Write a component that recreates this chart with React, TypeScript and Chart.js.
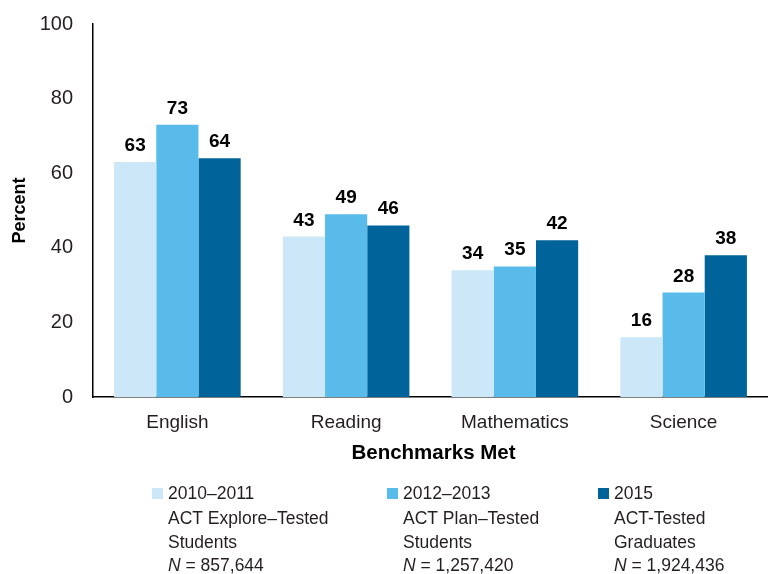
import React, { useEffect, useRef } from "react";
import { Chart, registerables } from "chart.js";

Chart.register(...registerables);

const categories = ["English", "Reading", "Mathematics", "Science"];
const series2010 = [63, 43, 34, 16];
const series2012 = [73, 49, 35, 28];
const series2015 = [64, 46, 42, 38];
const yTicks = [0, 20, 40, 60, 80, 100];

const seriesNames = ["2010–2011", "2012–2013", "2015"];
const legendLines = [
  ["2010–2011", "ACT Explore–Tested", "Students", "857,644"],
  ["2012–2013", "ACT Plan–Tested", "Students", "1,257,420"],
  ["2015", "ACT-Tested", "Graduates", "1,924,436"],
];
const colors = ["#CBE7F8", "#59BBEA", "#006399"];

const FONT = "'Liberation Sans', Arial, Helvetica, sans-serif";
const TEXT = "#231F20";

const labelsPlugin = {
  id: "customText",
  afterDatasetsDraw(chart: any) {
    const ctx = chart.ctx;
    ctx.save();
    ctx.fillStyle = "#000";
    ctx.font = `bold 19px ${FONT}`;
    ctx.textAlign = "center";
    ctx.textBaseline = "alphabetic";
    chart.data.datasets.forEach((ds: any, i: number) => {
      const meta = chart.getDatasetMeta(i);
      meta.data.forEach((el: any, j: number) => {
        ctx.fillText(String(ds.data[j]), el.x, el.y - 11);
      });
    });
    ctx.restore();
  },
  afterDraw(chart: any) {
    const ctx = chart.ctx;
    const area = chart.chartArea;
    ctx.save();
    ctx.fillStyle = "#000";
    // y title
    ctx.font = `bold 18px ${FONT}`;
    ctx.textAlign = "center";
    ctx.textBaseline = "middle";
    ctx.translate(20, (area.top + area.bottom) / 2);
    ctx.rotate(-Math.PI / 2);
    ctx.fillText("Percent", 0, 0);
    ctx.setTransform(1, 0, 0, 1, 0, 0);
    // x title
    ctx.font = `bold 20.5px ${FONT}`;
    ctx.fillText("Benchmarks Met", (area.left + area.right) / 2 + 3, 453);
    // legend
    const xs = [152, 387, 598];
    const lineYs = [494, 519, 543, 566];
    legendLines.forEach((lines, i) => {
      const x = xs[i];
      ctx.fillStyle = colors[i];
      ctx.fillRect(x, 488, 11, 11);
      ctx.fillStyle = TEXT;
      ctx.textAlign = "left";
      ctx.textBaseline = "middle";
      ctx.font = `17.5px ${FONT}`;
      ctx.fillText(lines[0], x + 16, lineYs[0]);
      ctx.fillText(lines[1], x + 16, lineYs[1]);
      ctx.fillText(lines[2], x + 16, lineYs[2]);
      ctx.font = `italic 17.5px ${FONT}`;
      ctx.fillText("N", x + 16, lineYs[3]);
      const nw = ctx.measureText("N").width;
      ctx.font = `17.5px ${FONT}`;
      ctx.fillText(" = " + lines[3], x + 16 + nw, lineYs[3]);
    });
    ctx.restore();
  },
};

export default function App() {
  const ref = useRef<HTMLCanvasElement>(null);
  useEffect(() => {
    if (!ref.current) return;
    const chart = new Chart(ref.current, {
      type: "bar",
      data: {
        labels: categories,
        datasets: [series2010, series2012, series2015].map((d, i) => ({
          label: seriesNames[i],
          data: d,
          backgroundColor: colors[i],
          borderWidth: 0,
          categoryPercentage: 0.75,
          barPercentage: 1.0,
        })),
      },
      options: {
        animation: false,
        responsive: false,
        devicePixelRatio: 1,
        layout: { padding: { top: 24, left: 0, right: 0, bottom: 0 } },
        plugins: { legend: { display: false }, tooltip: { enabled: false } },
        scales: {
          x: {
            grid: { display: false, drawTicks: false },
            border: { display: true, color: "#000", width: 1.5 },
            ticks: { font: { family: FONT, size: 19 }, color: TEXT, padding: 14, maxRotation: 0 },
            afterFit: (s: any) => {
              s.height = 177;
              s.paddingLeft = 0;
              s.paddingRight = 0;
            },
          },
          y: {
            min: 0,
            max: 100,
            grid: { display: false, drawTicks: false },
            border: { display: true, color: "#000", width: 1.5 },
            afterBuildTicks: (s: any) => {
              s.ticks = yTicks.map((v) => ({ value: v }));
            },
            ticks: { font: { family: FONT, size: 20 }, color: TEXT, padding: 20 },
            afterFit: (s: any) => {
              s.width = 93;
              s.paddingTop = 0;
              s.paddingBottom = 0;
            },
          },
        },
      },
      plugins: [labelsPlugin],
    });
    return () => chart.destroy();
  }, []);
  return (
    <div style={{ position: "fixed", left: 0, top: 0, width: 768, height: 574, background: "#fff" }}>
      <canvas ref={ref} width={768} height={574} style={{ width: 768, height: 574, display: "block" }} />
    </div>
  );
}
